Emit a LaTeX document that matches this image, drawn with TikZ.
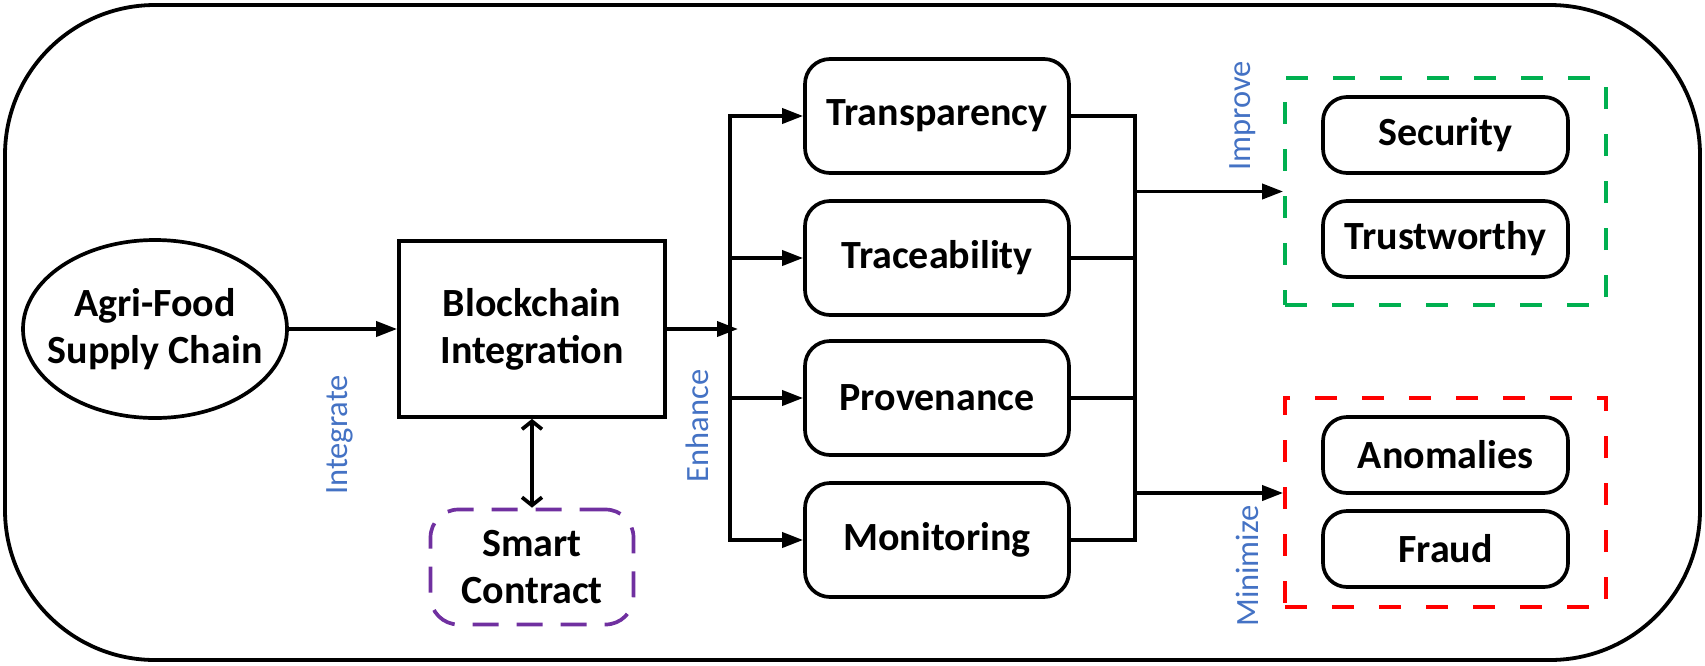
\documentclass[tikz,border=0pt]{standalone}
\usepackage{fontspec}
\setmainfont{Carlito}
\usetikzlibrary{arrows.meta,shapes.geometric}
\definecolor{lblue}{HTML}{4472C4}
\definecolor{cgreen}{HTML}{00B050}
\definecolor{cred}{HTML}{FF0000}
\definecolor{cpurple}{HTML}{7030A0}
\begin{document}
\begin{tikzpicture}[x=1pt,y=-1pt,
  lw/.style={line width=3.7pt},
  bigtxt/.style={font=\fontsize{40}{47}\selectfont\bfseries, align=center},
  lbl/.style={font=\fontsize{32.5}{36}\selectfont, text=lblue, rotate=90, inner sep=0pt},
  rbox/.style={draw, lw, rounded corners=25pt, minimum width=264pt, minimum height=114pt, inner sep=0pt, bigtxt},
  sbox/.style={draw, lw, rounded corners=24pt, minimum width=245pt, minimum height=76pt, inner sep=0pt, bigtxt},
  arr/.style={lw, -{Triangle[length=21pt,width=15pt]}},
  dblarr/.style={lw, {Straight Barb[length=8pt,width=20pt]}-{Straight Barb[length=8pt,width=20pt]}},
  conn/.style={lw},
  grp/.style={draw, lw, dash pattern=on 22pt off 25pt, minimum width=321pt, inner sep=0pt},
]
\useasboundingbox (0,0) rectangle (1705,665);
% outer frame
\draw[line width=3.8pt, rounded corners=150pt] (5,5) rectangle (1700,660);

% left part
\node[draw, lw, ellipse, minimum width=264pt, minimum height=178pt, inner sep=0pt] (A) at (155,329) {};
\node[bigtxt, inner sep=0pt] (At) at (A.center) {Agri-Food\\Supply Chain};
\node[draw, lw, minimum width=266pt, minimum height=176pt, inner sep=0pt, bigtxt] (B) at (532,329) {Blockchain\\Integration};
\node[draw=cpurple, lw, dash pattern=on 26pt off 18pt, rounded corners=28pt, minimum width=203pt, minimum height=115pt, inner sep=0pt, bigtxt] (S) at (532,567) {Smart\\Contract};

% middle boxes
\node[rbox] (T)  at (937,116) {Transparency};
\node[rbox] (Tr) at (937,258) {Traceability};
\node[rbox] (P)  at (937,398) {Provenance};
\node[rbox] (M)  at (937,540) {Monitoring};

% groups
\node[grp, draw=cgreen, minimum height=227pt] (G) at (1445.5,191.5) {};
\node[grp, draw=cred, minimum height=209pt] (R) at (1445.5,502.5) {};
\node[sbox] (Sec) at (1445.5,135) {Security};
\node[sbox] (Tw)  at (1445.5,239) {Trustworthy};
\node[sbox] (An)  at (1445.5,455) {Anomalies};
\node[sbox] (Fr)  at (1445.5,549) {Fraud};

% labels
\node[lbl] (lInt) at (340,435) {Integrate};
\node[lbl] (lEnh) at (697,426) {Enhance};
\node[lbl] (lImp) at (1243,116) {Improve};
\node[lbl] (lMin) at (1247,566) {Minimize};

% connectors
\coordinate (hub) at (738,329);
\coordinate (tx) at (730,0);
\coordinate (rx) at (1135,0);
\coordinate (mzy) at (0,493);
\draw[arr] (A.east) -- (B.west);
\draw[dblarr] (B.south) -- (S.north);
\draw[arr] (B.east) -- (hub);
\draw[conn, line cap=rect] (tx |- T.west) -- (tx |- M.west);
\foreach \n in {T,Tr,P,M} {
  \draw[arr] (tx |- \n.west) -- (\n.west);
  \draw[conn] (\n.east) -- (rx |- \n.east);
}
\draw[conn, line cap=rect] (rx |- T.east) -- (rx |- M.east);
\draw[arr] (rx |- G.west) -- (G.west);
\draw[arr] (rx |- mzy) -- (R.west |- mzy);
\end{tikzpicture}
\end{document}
